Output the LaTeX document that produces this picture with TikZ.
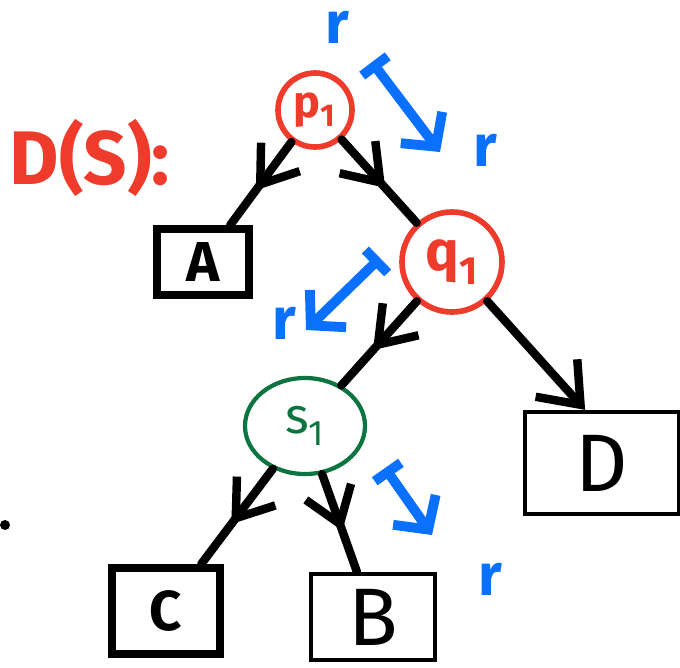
\documentclass[tikz,border=0pt]{standalone}
\usepackage{fontspec}
\setmainfont{Fira Sans}
\usetikzlibrary{arrows.meta,decorations.markings,shapes.geometric}
\definecolor{penred}{HTML}{EE3B2B}
\definecolor{penblue}{HTML}{0A70FF}
\definecolor{pengreen}{HTML}{0B7440}
\tikzset{
  knot/.style={circle,draw=penred,line width=4pt,text=penred,inner sep=0pt},
  leaf/.style={rectangle,draw=black,inner sep=0pt},
  thickleaf/.style={leaf,line width=5.5pt,font=\fontsize{40}{40}\selectfont\bfseries},
  thinleaf/.style={leaf,line width=3pt,font=\fontsize{58}{58}\selectfont},
  tree/.style={line width=6pt,line cap=round,postaction={decorate},
    decoration={markings,mark=at position 0.58 with {\arrow[line width=6pt]{Straight Barb[length=8.5mm,width=12mm]}}}},
  move/.style={draw=penblue,line width=7pt,line cap=round,
    {Bar[width=8mm]}-{Straight Barb[length=6mm,width=13mm]}},
  rlabel/.style={text=penblue,inner sep=0pt,text height=1ex,text depth=0pt,
    font=\fontsize{42}{42}\selectfont\bfseries}
}
\begin{document}
\begin{tikzpicture}[x=0.025cm,y=-0.025cm]
  \useasboundingbox (0,0) rectangle (680,667);
  % title
  \node[text=penred,font=\fontsize{54}{54}\selectfont\bfseries] (title) at (90,158) {D(S):};
  \fill (5,525) circle (5);
  % inner nodes
  \node[knot,minimum size=1.85cm,font=\fontsize{32}{32}\selectfont\bfseries] (p1) at (315,110) {p\textsubscript{1}};
  \node[knot,minimum size=2.5cm,font=\fontsize{40}{40}\selectfont\bfseries] (q1) at (452,262) {q\textsubscript{1}};
  \node[ellipse,draw=pengreen,line width=3pt,text=pengreen,minimum width=3cm,minimum height=2.4cm,
    font=\fontsize{36}{36}\selectfont] (s1) at (305,426) {s\textsubscript{1}};
  % leaves
  \node[thickleaf,minimum width=2.3cm,minimum height=1.65cm] (A) at (203,262) {A};
  \node[thickleaf,minimum width=2.7cm,minimum height=2.15cm] (C) at (166,611) {C};
  \node[thinleaf,minimum width=3.1cm,minimum height=2.15cm] (B) at (373,617) {B};
  \node[thinleaf,minimum width=3.85cm,minimum height=2.55cm] (D) at (602,463) {D};
  % edges
  \draw[tree] (p1) -- (A);
  \draw[tree] (p1) -- (q1);
  \draw[tree] (q1) -- (s1);
  \draw[tree] (s1) -- (C);
  \draw[tree] (s1) -- (B);
  \draw[line width=6pt,line cap=round,-{Straight Barb[length=9mm,width=14mm]}] (q1) -- ([xshift=-12]D.north);
  % rotations
  \coordinate (m1a) at (372,62);
  \coordinate (m1b) at (440,152);
  \coordinate (m2a) at (380,258);
  \coordinate (m2b) at (306,330);
  \coordinate (m3a) at (385,468);
  \coordinate (m3b) at (432,535);
  \draw[move] (m1a) -- (m1b);
  \draw[move] (m2a) -- (m2b);
  \draw[move] (m3a) -- (m3b);
  \node[rlabel] (r1) at (337,40) {r};
  \node[rlabel] (r2) at (485,163) {r};
  \node[rlabel] (r3) at (284,336) {r};
  \node[rlabel] (r4) at (490,592) {r};
\end{tikzpicture}
\end{document}
